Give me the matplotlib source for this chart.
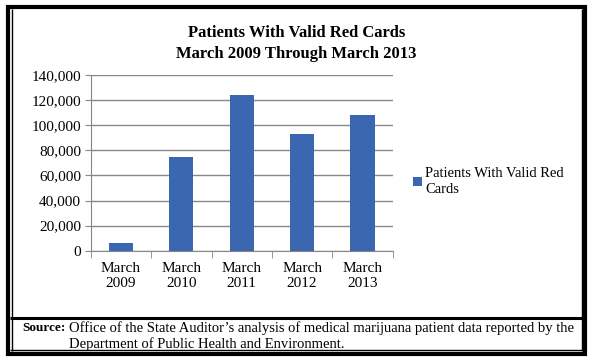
import matplotlib.pyplot as plt
from matplotlib.lines import Line2D
from matplotlib.ticker import FuncFormatter, FixedLocator

years = ['March\n2009', 'March\n2010', 'March\n2011', 'March\n2012', 'March\n2013']
patients = [6100, 75000, 123800, 93300, 108400]
series_name = 'Patients With Valid Red\nCards'
title = 'Patients With Valid Red Cards\nMarch 2009 Through March 2013'
source = ("Office of the State Auditor\u2019s analysis of medical marijuana patient data reported by the\n"
          "Department of Public Health and Environment.")

plt.rcParams['font.family'] = ['Liberation Serif', 'DejaVu Serif']

fig = plt.figure(figsize=(5.93, 3.62), dpi=100)
W, H = 593, 362

ax = fig.add_axes([90.7 / W, 1 - 250.7 / H, 302 / W, 175.7 / H])
x = range(len(years))
ax.bar(x, patients, width=0.4, color='#3b67b0', zorder=3)
ax.set_xlim(-0.5, 4.5)
ax.set_ylim(0, 140000)
ax.set_yticks(range(0, 140001, 20000))
ax.yaxis.set_major_formatter(FuncFormatter(lambda v, p: f'{int(v):,}'))
ax.grid(axis='y', color='#878787', linewidth=1, zorder=0)
ax.set_xticks(list(x))
ax.set_xticklabels(years, fontsize=11, linespacing=1.2)
ax.xaxis.set_minor_locator(FixedLocator([-0.5, 0.5, 1.5, 2.5, 3.5, 4.5]))
ax.tick_params(axis='x', which='major', length=0, pad=8)
ax.tick_params(axis='x', which='minor', length=5, color='#878787', direction='out')
ax.tick_params(axis='y', length=4, color='#878787', labelsize=11, pad=3)
for s in ['top', 'right']:
    ax.spines[s].set_visible(False)
for s in ['left', 'bottom']:
    ax.spines[s].set_color('#878787')

leg = ax.legend([series_name], loc='upper left', bbox_to_anchor=(406 / W, 1 - 160 / H),
                bbox_transform=fig.transFigure, frameon=False, fontsize=10.5,
                handlelength=0.6, handleheight=0.6, handletextpad=0.2, borderpad=0)
for t in leg.get_texts():
    t.set_linespacing(1.3)

fig.text(0.5, 1 - 43.5 / H, title, ha='center', va='center', fontsize=12,
         fontweight='bold', linespacing=1.35)

fig.text(22 / W, 1 - 328 / H, 'Source:', ha='left', va='center', fontsize=9.5,
         fontweight='bold')
fig.text(69 / W, 1 - 336 / H, source, ha='left', va='center', fontsize=10.5,
         linespacing=1.2)

# frame around the chart
def hline(y, x0, x1, lw):
    fig.add_artist(Line2D([x0 / W, x1 / W], [1 - y / H, 1 - y / H], color='black',
                          linewidth=lw, solid_capstyle='butt'))

def vline(xp, y0, y1, lw):
    fig.add_artist(Line2D([xp / W, xp / W], [1 - y0 / H, 1 - y1 / H], color='black',
                          linewidth=lw, solid_capstyle='butt'))

hline(7, 6, 587, 3)
hline(354, 6, 587, 3)
vline(8, 5, 356, 3)
vline(585, 5, 356, 3)
vline(11.5, 9, 351, 1)
vline(581.5, 9, 351, 1)
hline(349.5, 10, 582, 1)
hline(317.5, 10, 582, 2.2)

fig.savefig('out.png', dpi=100)
